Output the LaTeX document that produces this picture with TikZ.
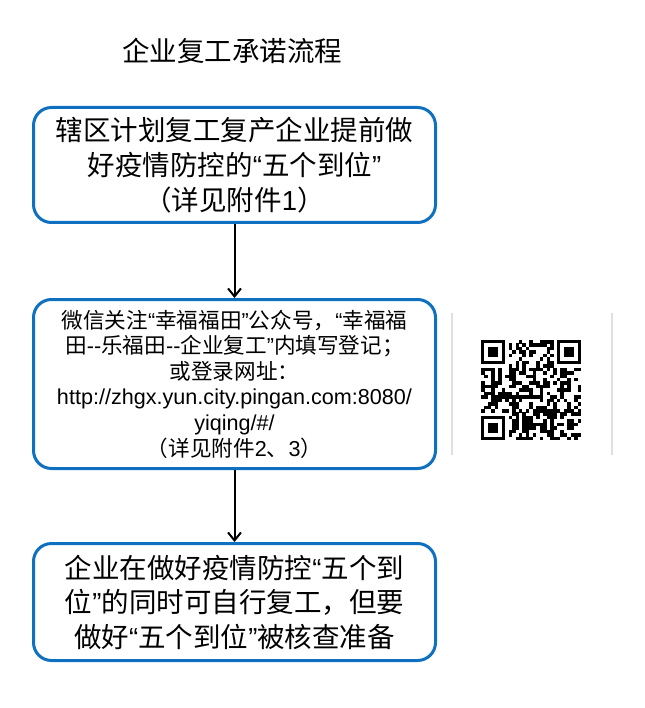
\documentclass[tikz,border=0pt]{standalone}
\usepackage{fontspec}
\setmainfont{Noto Sans CJK SC}
\newfontfamily\latin{Liberation Sans}
\usepackage{xcolor}
\usepackage{tikz}
\usetikzlibrary{arrows.meta}

\definecolor{boxblue}{RGB}{16,112,192}
\newcommand{\lquo}{{\latin “}}
\newcommand{\rquo}{{\latin ”}}

\begin{document}
\begin{tikzpicture}[x=1pt, y=-1pt,
    stepbox/.style={draw=boxblue, line width=3pt, rounded corners=18pt, inner sep=0pt,
                    minimum width=402pt, align=center},
    flowarrow/.style={line width=2pt, -{Straight Barb[length=8pt, width=13pt, line width=2pt]}}]
    \useasboundingbox (0,0) rectangle (644,708);

    \node[font=\fontsize{27.5}{35}\selectfont] (T) at (232,51) {企业复工承诺流程};

    \node[stepbox, minimum height=115pt, font=\fontsize{27.5}{35}\selectfont] (A) at (234.5,165)
        {辖区计划复工复产企业提前做\\好疫情防控的\lquo{}五个到位\rquo\\（详见附件{\latin 1}）};
    \node[stepbox, minimum height=169pt, font=\fontsize{21.6}{25.6}\selectfont] (B) at (234.5,384)
        {微信关注\lquo{}幸福福田\rquo{}公众号，\lquo{}幸福福\\田{\latin -{}-}乐福田{\latin -{}-}企业复工\rquo{}内填写登记；\\或登录网址：\\{\latin http://zhgx.yun.city.pingan.com:8080/}\\{\latin yiqing/\#/}\\（详见附件{\latin 2}、{\latin 3}）};
    \node[stepbox, minimum height=117pt, font=\fontsize{27.5}{34.5}\selectfont] (C) at (234.5,602)
        {企业在做好疫情防控\lquo{}五个到\\位\rquo{}的同时可自行复工，但要\\做好\lquo{}五个到位\rquo{}被核查准备};

    \draw[flowarrow] (A) -- (B);
    \draw[flowarrow] (B) -- (C);

    % QR code
    \draw[black!12, line width=1.5pt] (452,313) -- (452,455);
    \draw[black!12, line width=1.5pt] (612,313) -- (612,455);
    \pgfmathsetseed{2020}
    \begin{scope}[shift={(481,340)}]
        \foreach \i in {0,...,28}{
            \foreach \j in {0,...,28}{
                \pgfmathtruncatemacro{\on}{(rnd<0.5)*(((\i<8)*(\j<8)+(\i>20)*(\j<8)+(\i<8)*(\j>20))==0)}
                \ifnum\on=1 \fill (\i*3.45,\j*3.45) rectangle ++(3.5,3.5); \fi
            }
        }
        \foreach \p/\q in {0/0, 22/0, 0/22}{
            \fill (\p*3.45,\q*3.45) rectangle ++(7*3.45,7*3.45);
            \fill[white] (\p*3.45+3.45,\q*3.45+3.45) rectangle ++(5*3.45,5*3.45);
            \fill (\p*3.45+6.9,\q*3.45+6.9) rectangle ++(3*3.45,3*3.45);
        }
    \end{scope}
\end{tikzpicture}
\end{document}
